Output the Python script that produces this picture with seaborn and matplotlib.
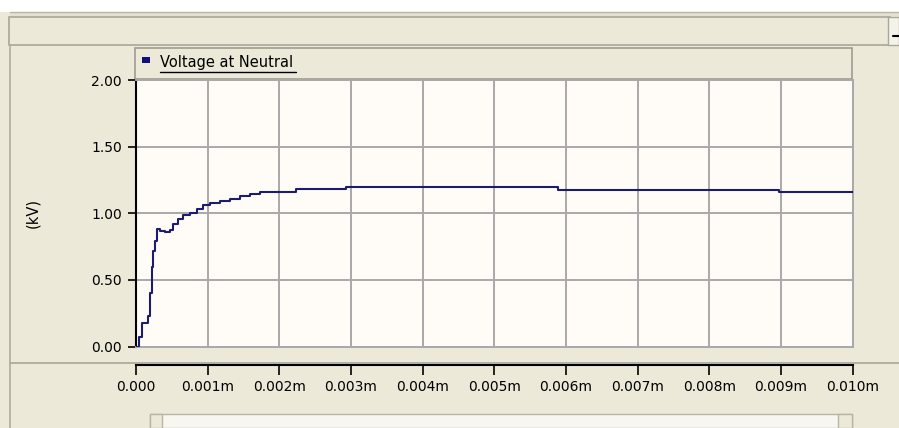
import matplotlib
matplotlib.use("Agg")
import matplotlib.pyplot as plt
import seaborn as sns
import pandas as pd
from matplotlib.patches import Rectangle
from matplotlib.lines import Line2D

# ---- data ----
time_ms = [0.0, 0.046, 0.079, 0.172, 0.195, 0.219, 0.242, 0.265, 0.298, 0.335,
           0.405, 0.474, 0.521, 0.591, 0.66, 0.753, 0.846, 0.939, 1.03, 1.17,
           1.31, 1.45, 1.59, 1.73, 2.24, 2.93, 5.89, 8.97, 10.0]
voltage_kv = [0.0, 0.075, 0.176, 0.226, 0.40, 0.60, 0.715, 0.79, 0.884, 0.87,
              0.86, 0.875, 0.916, 0.96, 0.984, 1.004, 1.03, 1.06, 1.08, 1.09,
              1.11, 1.13, 1.148, 1.16, 1.18, 1.197, 1.177, 1.162, 1.162]
x_ticks = [0, 1, 2, 3, 4, 5, 6, 7, 8, 9, 10]
x_tick_labels = ["0.000", "0.001m", "0.002m", "0.003m", "0.004m", "0.005m",
                 "0.006m", "0.007m", "0.008m", "0.009m", "0.010m"]
y_ticks = [0.0, 0.5, 1.0, 1.5, 2.0]
y_tick_labels = ["0.00", "0.50", "1.00", "1.50", "2.00"]
series_name = "Voltage at Neutral"
y_label = "(kV)"

df = pd.DataFrame({"t": time_ms, "v": voltage_kv})

W, H = 899, 428
BEIGE = "#ECE9D8"
sns.set_style("white")
plt.rcParams["font.family"] = ["DejaVu Sans"]
plt.rcParams["text.color"] = "black"
plt.rcParams["axes.labelcolor"] = "black"
plt.rcParams["xtick.color"] = "black"
plt.rcParams["ytick.color"] = "black"
fig = plt.figure(figsize=(W / 100, H / 100), dpi=100, facecolor=BEIGE)


def fx(x):
    return x / W


def fy(y):
    return 1 - y / H


def rect(x0, y0, x1, y1, fc, ec="none", lw=1.0, z=0):
    fig.add_artist(Rectangle((fx(x0), fy(y1)), fx(x1) - fx(x0), fy(y0) - fy(y1),
                             transform=fig.transFigure, facecolor=fc,
                             edgecolor=ec, linewidth=lw, zorder=z))


def hline(x0, x1, y, c, lw=1.0, z=1):
    fig.add_artist(Line2D([fx(x0), fx(x1)], [fy(y), fy(y)], transform=fig.transFigure,
                          color=c, linewidth=lw, zorder=z))


def vline(x, y0, y1, c, lw=1.0, z=1):
    fig.add_artist(Line2D([fx(x), fx(x)], [fy(y0), fy(y1)], transform=fig.transFigure,
                          color=c, linewidth=lw, zorder=z))


# window chrome
rect(0, 0, W, 12, "white")
rect(10, 12, W, 16, "#E4E1D0")
hline(10, W, 12, "#B8B5A6", 1.0)
rect(9, 17, 890, 45, BEIGE, ec="#A9A69A", lw=1.2)
vline(10, 46, H, "#B0AD9E", 1.2)
hline(10, W, 363, "#A9A69A", 1.2)
rect(888, 17, 899, 45, "#F4F2EA", ec="#A9A69A", lw=1.0)
hline(893, 899, 36, "black", 1.5, z=3)

# legend strip
rect(135, 48, 852, 79, BEIGE, ec="#9E9B90", lw=1.2)
rect(142, 57, 150, 63, "#10107A", z=2)
fig.text(fx(160), fy(63), series_name, fontsize=10.5, color="black",
         ha="left", va="center")
hline(160, 296, 72, "black", 1.0, z=3)

# scrollbar
rect(150, 414, 852, 428, "#F7F6F0", ec="#B8B5A6", lw=1.0)
rect(150, 414, 162, 428, BEIGE, ec="#B8B5A6", lw=1.0)
rect(838, 414, 852, 428, BEIGE, ec="#B8B5A6", lw=1.0)

# main plot axes
x0p, x1p, y0p, y1p = 136, 852.5, 80, 346.5
ax = fig.add_axes([fx(x0p), fy(y1p), fx(x1p) - fx(x0p), fy(y0p) - fy(y1p)])
ax.set_facecolor("#FFFCF7")
sns.lineplot(data=df, x="t", y="v", ax=ax, estimator=None, drawstyle="steps-post",
             color="#1C1C6E", linewidth=1.5, zorder=3)
ax.set_xlim(0, 10)
ax.set_ylim(0, 2)
ax.set_xticks(x_ticks)
ax.set_yticks(y_ticks)
ax.set_yticklabels(y_tick_labels, fontsize=10)
ax.tick_params(axis="x", bottom=False, labelbottom=False)
ax.tick_params(axis="y", left=True, direction="out", length=6, width=1.2,
               color="black", labelcolor="black", pad=4)
ax.grid(True, color="#A9A9A9", linewidth=1.4)
for s in ["top", "right", "bottom"]:
    ax.spines[s].set_color("#A9A9A9")
    ax.spines[s].set_linewidth(1.4)
ax.spines["left"].set_color("black")
ax.spines["left"].set_linewidth(1.5)
ax.set_xlabel("")
ax.set_ylabel(y_label, fontsize=10.5, labelpad=37, color="black")

# separate x-axis strip below
axx = fig.add_axes([fx(x0p), fy(372), fx(x1p) - fx(x0p), fy(365) - fy(372)])
axx.set_facecolor("none")
axx.set_xlim(0, 10)
axx.set_ylim(0, 1)
axx.set_yticks([])
axx.set_xticks(x_ticks)
axx.set_xticklabels(x_tick_labels, fontsize=10)
axx.tick_params(axis="x", top=True, bottom=False, labeltop=False, labelbottom=True,
                direction="in", length=7, width=1.2, color="black",
                labelcolor="black", pad=6)
for s in ["left", "right", "bottom"]:
    axx.spines[s].set_visible(False)
axx.spines["top"].set_color("black")
axx.spines["top"].set_linewidth(1.5)

fig.savefig("out.png", dpi=100, facecolor=BEIGE)
